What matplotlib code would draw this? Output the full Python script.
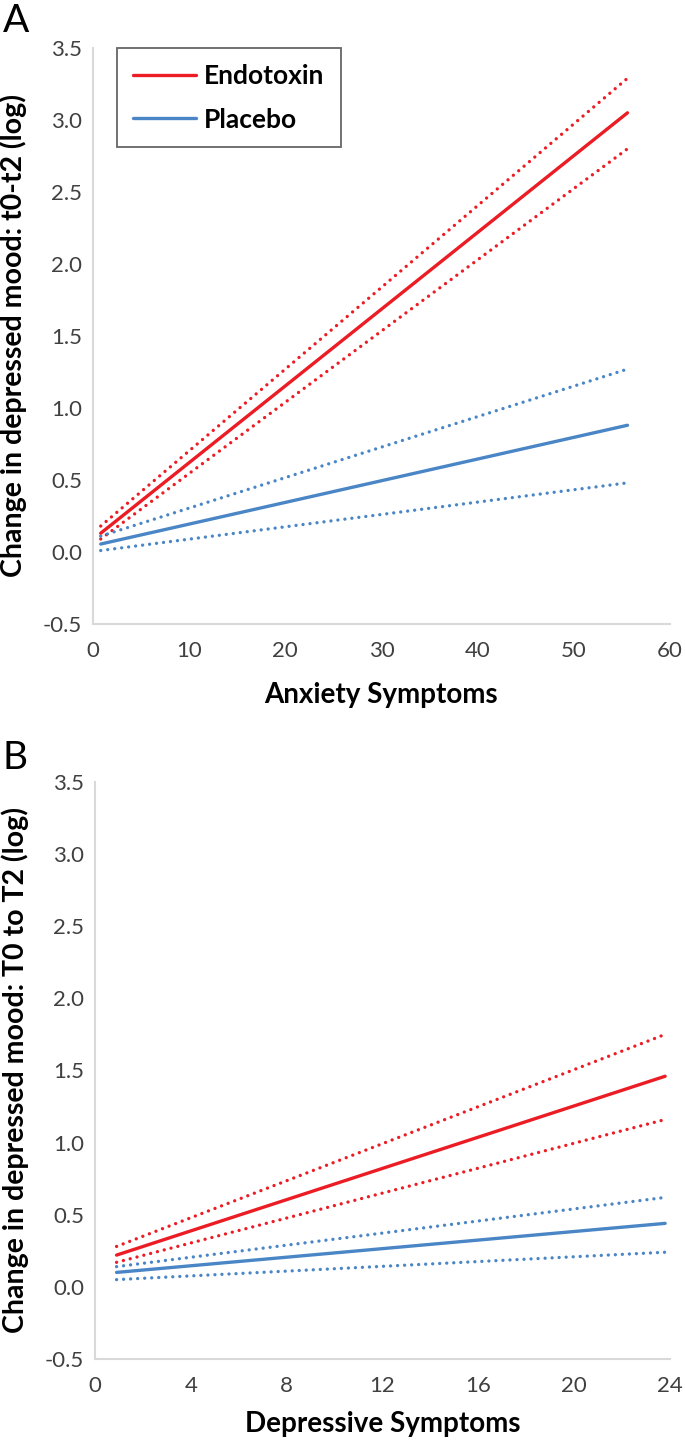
import matplotlib
matplotlib.use("Agg")
import matplotlib.pyplot as plt

plt.rcParams["font.family"] = ["Lato", "DejaVu Sans"]

# Panel A: anxiety symptoms
anx_x = [0.8, 55.6]
anx_endo = [0.13, 3.05]
anx_endo_hi = [0.18, 3.29]
anx_endo_lo = [0.09, 2.80]
anx_plac = [0.055, 0.88]
anx_plac_hi = [0.11, 1.27]
anx_plac_lo = [0.01, 0.48]

# Panel B: depressive symptoms
dep_x = [0.9, 23.8]
dep_endo = [0.22, 1.46]
dep_endo_hi = [0.28, 1.75]
dep_endo_lo = [0.17, 1.16]
dep_plac = [0.10, 0.44]
dep_plac_hi = [0.14, 0.62]
dep_plac_lo = [0.05, 0.24]

y_ticks = [-0.5, 0.0, 0.5, 1.0, 1.5, 2.0, 2.5, 3.0, 3.5]
anx_ticks = [0, 10, 20, 30, 40, 50, 60]
dep_ticks = [0, 4, 8, 12, 16, 20, 24]

RED = "#ec1c24"
BLUE = "#4a86c6"
DOT = (0, (0.01, 2.1))


def draw_panel(ax, x, endo, endo_hi, endo_lo, plac, plac_hi, plac_lo, xticks, xlabel, ylabel, xlab_y):
    ax.plot(x, endo_hi, color=RED, lw=2.4, linestyle=DOT, dash_capstyle="round")
    ax.plot(x, endo_lo, color=RED, lw=2.4, linestyle=DOT, dash_capstyle="round")
    ax.plot(x, plac_hi, color=BLUE, lw=2.4, linestyle=DOT, dash_capstyle="round")
    ax.plot(x, plac_lo, color=BLUE, lw=2.4, linestyle=DOT, dash_capstyle="round")
    ax.plot(x, endo, color=RED, lw=2.4, label="Endotoxin", solid_capstyle="round")
    ax.plot(x, plac, color=BLUE, lw=2.4, label="Placebo", solid_capstyle="round")

    ax.set_xlim(xticks[0], xticks[-1])
    ax.set_ylim(-0.5, 3.5)
    ax.set_xticks(xticks)
    ax.set_yticks(y_ticks)
    ax.set_yticklabels([f"{v:.1f}" for v in y_ticks])
    ax.tick_params(length=0, labelsize=16, labelcolor="#404040")
    ax.tick_params(axis="x", pad=12)
    ax.tick_params(axis="y", pad=8)
    for side in ("top", "right"):
        ax.spines[side].set_visible(False)
    for side in ("left", "bottom"):
        ax.spines[side].set_color("#d9d9d9")
        ax.spines[side].set_linewidth(1.5)
    ax.set_xlabel(xlabel, fontsize=20, fontweight="bold")
    ax.set_ylabel(ylabel, fontsize=20.5, fontweight="bold")
    ax.xaxis.set_label_coords(0.5, xlab_y)
    ax.yaxis.set_label_coords(-0.115, 0.5)


fig = plt.figure(figsize=(6.85, 14.46), dpi=100)

ax1 = fig.add_axes([0.1358, 0.5685, 0.842, 0.3983])
draw_panel(ax1, anx_x, anx_endo, anx_endo_hi, anx_endo_lo, anx_plac, anx_plac_hi, anx_plac_lo,
           anx_ticks, "Anxiety Symptoms", "Change in depressed mood: t0-t2 (log)", -0.1)
leg = ax1.legend(loc="upper left", bbox_to_anchor=(0.042, 1.0), fontsize=19, frameon=True,
                 fancybox=False, handlelength=2.4, borderpad=0.6, labelspacing=0.75,
                 handletextpad=0.3, borderaxespad=0.0)
leg.get_frame().set_edgecolor("#404040")
leg.get_frame().set_linewidth(1.3)
for t in leg.get_texts():
    t.set_fontweight("bold")

ax2 = fig.add_axes([0.1387, 0.0602, 0.8393, 0.399])
draw_panel(ax2, dep_x, dep_endo, dep_endo_hi, dep_endo_lo, dep_plac, dep_plac_hi, dep_plac_lo,
           dep_ticks, "Depressive Symptoms", "Change in depressed mood: T0 to T2 (log)", -0.09)

fig.text(0.004, 0.998, "A", fontsize=28, va="top", ha="left")
fig.text(0.004, 0.488, "B", fontsize=28, va="top", ha="left")

fig.savefig("out.png", dpi=100)
